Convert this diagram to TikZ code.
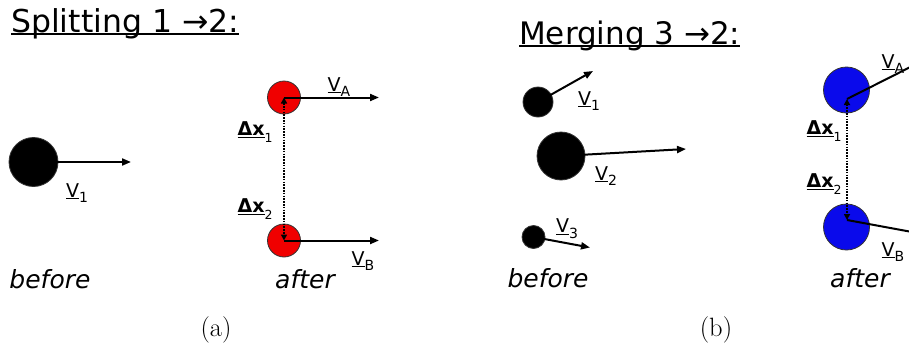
\documentclass[tikz,border=0pt]{standalone}
\usepackage{fontspec}
\newfontfamily\dv{DejaVu Sans}
\usetikzlibrary{arrows.meta}
\newcommand\myul[3]{\leavevmode\setbox0\hbox{#3}\rlap{\rule[-#2]{\wd0}{#1}}\box0}
\newcommand\vl[1]{\myul{1.5pt}{2.4pt}{V}\raisebox{-0.55ex}{\fontsize{14}{14}\selectfont #1}}
\newcommand\dl[1]{\myul{1.5pt}{2.4pt}{\bfseries Δx}\raisebox{-0.6ex}{\fontsize{12.5}{12.5}\selectfont #1}}
\definecolor{redball}{RGB}{240,0,0}
\definecolor{blueball}{RGB}{10,10,235}
\begin{document}
\begin{tikzpicture}[x=1pt,y=-1pt,
  ball/.style={circle, draw=black!80, line width=0.8pt, inner sep=0pt, minimum size=#1},
  vel/.style={line width=2pt, -{Triangle[length=9pt,width=7pt]}},
  sep/.style={line width=2.2pt, dash pattern=on 1.6pt off 1.2pt,
    {Triangle[length=6pt,width=6pt]}-{Triangle[length=6pt,width=6pt]}},
  lab/.style={font=\dv\fontsize{19}{19}\selectfont, inner sep=0pt},
  ttl/.style={font=\dv\fontsize{31.5}{31.5}\selectfont, inner sep=0pt, anchor=base west},
  when/.style={font=\dv\itshape\fontsize{25}{25}\selectfont, inner sep=0pt},
  captext/.style={font=\fontsize{26.5}{26.5}\selectfont, inner sep=0pt}]
\clip (0,0) rectangle (909,351);
\useasboundingbox (0,0) rectangle (909,351);

% titles
\node[ttl] (t1) at (11,32) {\myul{1.8pt}{2.6pt}{Splitting 1 →2:}};
\node[ttl, font=\dv\fontsize{31}{31}\selectfont] (t2) at (519,44) {\myul{1.8pt}{2.6pt}{Merging 3 →2:}};

% (a) before
\node[ball=49pt, fill=black] (a1) at (33.5,162) {};
\coordinate (a1v) at (131,162);
\draw[vel] (a1.center) -- (a1v);
\node[lab] (la1) at (77,193) {\vl{1}};
\node[when] (wb1) at (50,279) {before};

% (a) after
\node[ball=33pt, fill=redball] (rA) at (284,97.5) {};
\node[ball=33pt, fill=redball] (rB) at (284,240.5) {};
\coordinate (rAv) at (379,97.5);
\coordinate (rBv) at (379,240.5);
\draw[sep] (rA.center) -- (rB.center);
\draw[vel] (rA.center) -- (rAv);
\draw[vel] (rB.center) -- (rBv);
\node[lab] (lrA) at (339,87) {\vl{A}};
\node[lab] (lrB) at (363,261) {\vl{B}};
\node[lab] (dr1) at (255,132) {\dl{1}};
\node[lab] (dr2) at (255,209) {\dl{2}};
\node[when] (wa1) at (305,279) {after};

% (b) before
\node[ball=30pt, fill=black] (m1) at (538,102) {};
\node[ball=48pt, fill=black] (m2) at (561,156) {};
\node[ball=23pt, fill=black] (m3) at (533.5,237) {};
\coordinate (m1v) at (593,71);
\coordinate (m2v) at (686,149);
\coordinate (m3v) at (590,247.5);
\draw[vel] (m1.center) -- (m1v);
\draw[vel] (m2.center) -- (m2v);
\draw[vel] (m3.center) -- (m3v);
\node[lab] (lm1) at (589,101) {\vl{1}};
\node[lab] (lm2) at (606,176) {\vl{2}};
\node[lab] (lm3) at (567,229) {\vl{3}};
\node[when] (wb2) at (548,278) {before};

% (b) after
\node[ball=46pt, fill=blueball] (bA) at (846.5,90) {};
\node[ball=46pt, fill=blueball] (bB) at (846.5,227) {};
\coordinate (bA0) at (847,99);
\coordinate (bB0) at (847,220);
\coordinate (bAv) at (950,47);
\coordinate (bBv) at (950,239);
\draw[sep] (bA0) -- (bB0);
\draw[line width=2pt] (bA0) -- (bAv);
\draw[line width=2pt] (bB0) -- (bBv);
\node[lab] (lbA) at (893,64) {\vl{A}};
\node[lab] (lbB) at (893,252) {\vl{B}};
\node[lab] (db1) at (824,131) {\dl{1}};
\node[lab] (db2) at (824,184) {\dl{2}};
\node[when] (wa2) at (860,278) {after};

% captions
\node[captext] (ca) at (216,330) {(a)};
\node[captext] (cb) at (716,330) {(b)};
\end{tikzpicture}
\end{document}
